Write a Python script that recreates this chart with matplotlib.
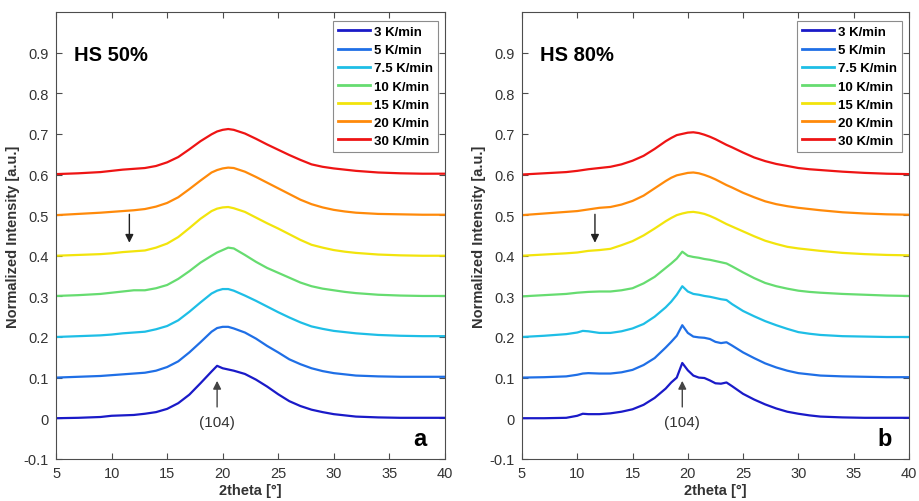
import matplotlib
matplotlib.use('Agg')
import matplotlib.pyplot as plt

plt.rcParams['font.family'] = ['Liberation Sans', 'DejaVu Sans']

# Legend labels, colours and vertical offset of each trace
rates = ['3 K/min', '5 K/min', '7.5 K/min', '10 K/min', '15 K/min', '20 K/min', '30 K/min']
colors = ['#1a1ac8', '#1f6fe6', '#1ebee6', '#66dc70', '#f2e40c', '#ff8a0a', '#ee1414']
offsets = [0.0, 0.1, 0.2, 0.3, 0.4, 0.5, 0.6]

# Panel a (HS 50%): 2theta grid and intensity above each offset
theta_a = [5, 7, 9, 10, 11, 12, 13, 14, 15, 16, 17, 18, 19, 19.5, 20, 20.5, 21, 22, 23, 24,
           25, 26, 27, 28, 29, 30, 31, 32, 34, 36, 38, 40]
hs50_3 = [0.0, 0.001, 0.003, 0.006, 0.007, 0.008, 0.011, 0.015, 0.023, 0.037, 0.058, 0.086, 0.115,
          0.129, 0.123, 0.120, 0.117, 0.109, 0.095, 0.078, 0.059, 0.042, 0.030, 0.021, 0.015, 0.010,
          0.007, 0.004, 0.002, 0.001, 0.001, 0.001]
hs50_5 = [0.0, 0.002, 0.004, 0.006, 0.008, 0.010, 0.012, 0.017, 0.026, 0.040, 0.062, 0.087, 0.113,
          0.122, 0.125, 0.125, 0.121, 0.111, 0.096, 0.078, 0.062, 0.045, 0.033, 0.023, 0.016, 0.011,
          0.008, 0.005, 0.003, 0.002, 0.002, 0.002]
hs50_7_5 = [0.0, 0.002, 0.004, 0.006, 0.009, 0.011, 0.013, 0.019, 0.027, 0.041, 0.062, 0.085, 0.107,
            0.114, 0.118, 0.118, 0.114, 0.102, 0.089, 0.075, 0.061, 0.048, 0.036, 0.026, 0.020, 0.015,
            0.012, 0.009, 0.005, 0.003, 0.002, 0.002]
hs50_10 = [0.001, 0.003, 0.006, 0.009, 0.012, 0.015, 0.015, 0.020, 0.028, 0.043, 0.062, 0.083, 0.100,
           0.108, 0.114, 0.120, 0.118, 0.102, 0.085, 0.070, 0.058, 0.046, 0.034, 0.025, 0.019, 0.015,
           0.011, 0.008, 0.004, 0.002, 0.001, 0.001]
hs50_15 = [0.0, 0.002, 0.004, 0.006, 0.009, 0.011, 0.013, 0.020, 0.030, 0.046, 0.068, 0.091, 0.110,
           0.116, 0.119, 0.120, 0.117, 0.108, 0.094, 0.080, 0.067, 0.053, 0.039, 0.027, 0.020, 0.014,
           0.010, 0.007, 0.003, 0.001, 0.0, 0.0]
hs50_20 = [0.0, 0.003, 0.006, 0.008, 0.010, 0.012, 0.015, 0.021, 0.030, 0.044, 0.064, 0.085, 0.105,
           0.111, 0.115, 0.117, 0.116, 0.107, 0.094, 0.080, 0.066, 0.052, 0.038, 0.027, 0.019, 0.013,
           0.009, 0.006, 0.003, 0.002, 0.001, 0.001]
hs50_30 = [0.001, 0.003, 0.006, 0.009, 0.012, 0.014, 0.016, 0.021, 0.030, 0.043, 0.062, 0.082, 0.099,
           0.106, 0.110, 0.112, 0.110, 0.101, 0.088, 0.074, 0.061, 0.048, 0.036, 0.025, 0.019, 0.015,
           0.012, 0.009, 0.005, 0.003, 0.002, 0.002]

# Panel b (HS 80%)
theta_b = [5, 7, 9, 10, 10.5, 11, 12, 13, 14, 15, 16, 17, 18, 18.5, 19, 19.5, 20, 20.5, 21, 21.5,
           22, 22.5, 23, 23.5, 24, 25, 26, 27, 28, 29, 30, 31, 32, 34, 36, 38, 40]
hs80_3 = [0.0, 0.0, 0.001, 0.006, 0.011, 0.010, 0.010, 0.012, 0.016, 0.022, 0.033, 0.050, 0.073,
          0.088, 0.100, 0.136, 0.118, 0.105, 0.100, 0.099, 0.093, 0.086, 0.085, 0.088, 0.079, 0.060,
          0.046, 0.034, 0.024, 0.016, 0.011, 0.007, 0.004, 0.002, 0.001, 0.001, 0.001]
hs80_5 = [0.0, 0.001, 0.003, 0.007, 0.010, 0.011, 0.010, 0.010, 0.013, 0.019, 0.031, 0.048, 0.074,
          0.088, 0.103, 0.129, 0.110, 0.101, 0.099, 0.098, 0.095, 0.088, 0.085, 0.087, 0.079, 0.062,
          0.048, 0.035, 0.025, 0.017, 0.011, 0.008, 0.005, 0.003, 0.002, 0.001, 0.001]
hs80_7_5 = [0.0, 0.003, 0.007, 0.011, 0.015, 0.014, 0.010, 0.010, 0.014, 0.021, 0.032, 0.050, 0.073,
            0.087, 0.104, 0.125, 0.112, 0.106, 0.104, 0.101, 0.099, 0.096, 0.093, 0.091, 0.081, 0.064,
            0.051, 0.039, 0.029, 0.020, 0.012, 0.008, 0.005, 0.002, 0.001, 0.0, 0.0]
hs80_10 = [0.0, 0.003, 0.006, 0.009, 0.010, 0.011, 0.012, 0.012, 0.015, 0.020, 0.032, 0.048, 0.070,
           0.081, 0.093, 0.110, 0.100, 0.097, 0.095, 0.092, 0.090, 0.087, 0.084, 0.081, 0.074, 0.059,
           0.045, 0.033, 0.025, 0.019, 0.014, 0.011, 0.009, 0.006, 0.004, 0.002, 0.001]
hs80_15 = [0.0, 0.003, 0.006, 0.008, 0.010, 0.012, 0.014, 0.017, 0.026, 0.036, 0.050, 0.067, 0.085,
           0.093, 0.100, 0.104, 0.107, 0.108, 0.106, 0.103, 0.098, 0.092, 0.085, 0.078, 0.072, 0.060,
           0.048, 0.037, 0.029, 0.022, 0.018, 0.015, 0.012, 0.007, 0.004, 0.002, 0.001]
hs80_20 = [0.0, 0.004, 0.008, 0.010, 0.012, 0.014, 0.018, 0.020, 0.026, 0.035, 0.048, 0.066, 0.084,
           0.092, 0.098, 0.101, 0.104, 0.105, 0.103, 0.099, 0.094, 0.088, 0.081, 0.074, 0.068, 0.055,
           0.044, 0.034, 0.027, 0.022, 0.018, 0.015, 0.012, 0.007, 0.004, 0.002, 0.001]
hs80_30 = [0.0, 0.003, 0.006, 0.009, 0.011, 0.013, 0.016, 0.019, 0.025, 0.034, 0.046, 0.063, 0.082,
           0.090, 0.097, 0.100, 0.103, 0.104, 0.102, 0.098, 0.093, 0.087, 0.080, 0.073, 0.067, 0.054,
           0.042, 0.033, 0.026, 0.021, 0.016, 0.013, 0.011, 0.007, 0.004, 0.002, 0.001]

panels = [
    dict(theta=theta_a, curves=[hs50_3, hs50_5, hs50_7_5, hs50_10, hs50_15, hs50_20, hs50_30],
         name='HS 50%', letter='a', rect=[0.061, 0.084, 0.423, 0.89]),
    dict(theta=theta_b, curves=[hs80_3, hs80_5, hs80_7_5, hs80_10, hs80_15, hs80_20, hs80_30],
         name='HS 80%', letter='b', rect=[0.568, 0.084, 0.421, 0.89]),
]

axis_grey = '#4d4d4d'
fig = plt.figure(figsize=(9.19, 5.02), dpi=100)

for p in panels:
    ax = fig.add_axes(p['rect'])
    for curve, off, color, label in zip(p['curves'], offsets, colors, rates):
        ax.plot(p['theta'], [v + off for v in curve], color=color, lw=1.6, label=label)

    ax.set_xlim(5, 40)
    ax.set_ylim(-0.1, 1.0)
    ax.set_xticks(range(5, 41, 5))
    yt = [round(-0.1 + 0.1 * i, 1) for i in range(11)]
    ax.set_yticks(yt)
    ax.set_yticklabels(['0' if v == 0 else f'{v:g}' for v in yt])
    ax.tick_params(direction='in', top=True, right=True, length=4, width=0.8,
                   colors=axis_grey, labelcolor='#333333', labelsize=10.5, pad=5)
    for s in ax.spines.values():
        s.set_color(axis_grey)
        s.set_linewidth(0.8)

    ax.set_xlabel('2theta [°]', fontweight='bold', fontsize=10.5, color='#333333', labelpad=2)
    ax.set_ylabel('Normalized Intensity [a.u.]', fontweight='bold', fontsize=10.5,
                  color='#333333', labelpad=3)

    leg = ax.legend(loc='upper right', bbox_to_anchor=(0.982, 0.981),
                    prop=dict(weight='bold', size=9.5), handlelength=2.4, handletextpad=0.3,
                    labelspacing=0.45, borderpad=0.4, borderaxespad=0.0,
                    fancybox=False, framealpha=1)
    leg.get_frame().set_edgecolor('#8c8c8c')
    leg.get_frame().set_linewidth(0.8)
    for line in leg.get_lines():
        line.set_linewidth(2.0)

    ax.text(6.6, 0.895, p['name'], fontsize=14.5, fontweight='bold', va='center')
    ax.text(37.8, -0.05, p['letter'], fontsize=17, fontweight='bold', va='center', ha='center')

    # Arrows marking the small shoulder and the (104) reflection
    ax.annotate('', xy=(11.6, 0.432), xytext=(11.6, 0.502),
                arrowprops=dict(arrowstyle='-|>', color='#222222', lw=1.0, mutation_scale=12,
                                shrinkA=0, shrinkB=0))
    ax.annotate('(104)', xy=(19.5, 0.092), xytext=(19.5, -0.01), ha='center', va='center',
                fontsize=11, color='#333333',
                arrowprops=dict(arrowstyle='-|>', color='#444444', lw=1.0, mutation_scale=12,
                                shrinkA=4, shrinkB=0))

fig.savefig('out.png', dpi=100)
